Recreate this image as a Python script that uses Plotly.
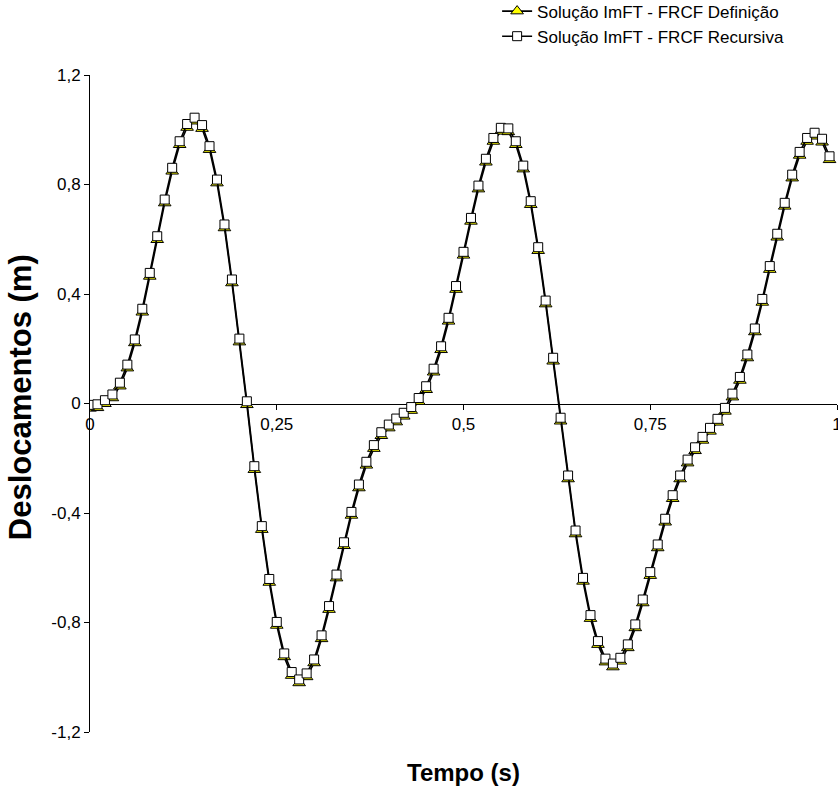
import plotly.graph_objects as go

# Time (s)
tempo = [0.00, 0.01, 0.02, 0.03, 0.04, 0.05, 0.06, 0.07, 0.08, 0.09,
         0.10, 0.11, 0.12, 0.13, 0.14, 0.15, 0.16, 0.17, 0.18, 0.19,
         0.20, 0.21, 0.22, 0.23, 0.24, 0.25, 0.26, 0.27, 0.28, 0.29,
         0.30, 0.31, 0.32, 0.33, 0.34, 0.35, 0.36, 0.37, 0.38, 0.39,
         0.40, 0.41, 0.42, 0.43, 0.44, 0.45, 0.46, 0.47, 0.48, 0.49,
         0.50, 0.51, 0.52, 0.53, 0.54, 0.55, 0.56, 0.57, 0.58, 0.59,
         0.60, 0.61, 0.62, 0.63, 0.64, 0.65, 0.66, 0.67, 0.68, 0.69,
         0.70, 0.71, 0.72, 0.73, 0.74, 0.75, 0.76, 0.77, 0.78, 0.79,
         0.80, 0.81, 0.82, 0.83, 0.84, 0.85, 0.86, 0.87, 0.88, 0.89,
         0.90, 0.91, 0.92, 0.93, 0.94, 0.95, 0.96, 0.97, 0.98, 0.99]

# Displacement (m) - FRCF Definição
desl_definicao = [-0.005, -0.003, 0.012, 0.033, 0.076, 0.142, 0.234, 0.346, 0.477, 0.611,
                  0.745, 0.861, 0.958, 1.021, 1.044, 1.017, 0.940, 0.818, 0.654, 0.453,
                  0.237, 0.008, -0.229, -0.448, -0.641, -0.798, -0.913, -0.981, -1.008, -0.986,
                  -0.935, -0.847, -0.740, -0.625, -0.507, -0.396, -0.296, -0.213, -0.152, -0.105,
                  -0.077, -0.055, -0.034, -0.013, 0.020, 0.063, 0.127, 0.209, 0.313, 0.429,
                  0.554, 0.678, 0.796, 0.894, 0.970, 1.007, 1.005, 0.958, 0.869, 0.739,
                  0.571, 0.376, 0.167, -0.052, -0.263, -0.464, -0.637, -0.773, -0.868, -0.932,
                  -0.950, -0.929, -0.880, -0.807, -0.716, -0.616, -0.515, -0.421, -0.335, -0.263,
                  -0.205, -0.160, -0.122, -0.089, -0.056, -0.016, 0.036, 0.097, 0.179, 0.274,
                  0.382, 0.502, 0.620, 0.733, 0.836, 0.919, 0.970, 0.989, 0.967, 0.903]

# Displacement (m) - FRCF Recursiva
desl_recursiva = [-0.005, -0.003, 0.012, 0.033, 0.076, 0.142, 0.234, 0.346, 0.477, 0.611,
                  0.745, 0.861, 0.958, 1.021, 1.044, 1.017, 0.940, 0.818, 0.654, 0.453,
                  0.237, 0.008, -0.229, -0.448, -0.641, -0.798, -0.913, -0.981, -1.008, -0.986,
                  -0.935, -0.847, -0.740, -0.625, -0.507, -0.396, -0.296, -0.213, -0.152, -0.105,
                  -0.077, -0.055, -0.034, -0.013, 0.020, 0.063, 0.127, 0.209, 0.313, 0.429,
                  0.554, 0.678, 0.796, 0.894, 0.970, 1.007, 1.005, 0.958, 0.869, 0.739,
                  0.571, 0.376, 0.167, -0.052, -0.263, -0.464, -0.637, -0.773, -0.868, -0.932,
                  -0.950, -0.929, -0.880, -0.807, -0.716, -0.616, -0.515, -0.421, -0.335, -0.263,
                  -0.205, -0.160, -0.122, -0.089, -0.056, -0.016, 0.036, 0.097, 0.179, 0.274,
                  0.382, 0.502, 0.620, 0.733, 0.836, 0.919, 0.970, 0.989, 0.967, 0.903]

x_tickvals = [0, 0.25, 0.5, 0.75, 1]
x_ticktext = ["0", "0,25", "0,5", "0,75", "1"]
y_tickvals = [-1.2, -0.8, -0.4, 0, 0.4, 0.8, 1.2]
y_ticktext = ["-1,2", "-0,8", "-0,4", "0", "0,4", "0,8", "1,2"]

FONT = "Arial, Liberation Sans, sans-serif"
Y_MIN, Y_MAX = -1.2, 1.2
PLOT_H = 789 - 75 - 57
# Excel centres the triangle's bounding box on the point; plotly centres it
# higher, so the triangle layer's axis is offset by a few pixels.
TRI_SHIFT = 3.5 * (Y_MAX - Y_MIN) / PLOT_H

fig = go.Figure()
# empty trace so that the visible (main) y axis is drawn
fig.add_trace(go.Scatter(x=[None], y=[None], mode="lines", yaxis="y",
                         showlegend=False, hoverinfo="skip"))
fig.add_trace(go.Scatter(
    x=tempo, y=desl_definicao, mode="lines+markers", yaxis="y2",
    name="Solução ImFT - FRCF Definição",
    line=dict(color="black", width=1.6),
    marker=dict(symbol="triangle-up", size=11, color="#FFFF00",
                line=dict(color="black", width=1)),
))
fig.add_trace(go.Scatter(
    x=tempo, y=desl_recursiva, mode="lines+markers", yaxis="y3",
    name="Solução ImFT - FRCF Recursiva",
    line=dict(color="black", width=1.6),
    marker=dict(symbol="square", size=9, color="white",
                line=dict(color="black", width=1)),
))

fig.update_layout(
    width=838, height=789,
    margin=dict(l=90, r=1, t=75, b=57, autoexpand=False),
    paper_bgcolor="white", plot_bgcolor="rgba(0,0,0,0)",
    font=dict(family=FONT, size=17, color="black"),
    showlegend=True,
    legend=dict(x=0.545, y=1.124, xanchor="left", yanchor="top",
                bgcolor="rgba(0,0,0,0)", font=dict(size=17),
                itemwidth=30, tracegroupgap=0),
    xaxis=dict(range=[0, 1], anchor="free", position=0.5,
               tickvals=x_tickvals, ticktext=x_ticktext,
               ticks="outside", ticklen=5, tickcolor="black",
               ticklabeloverflow="allow",
               showline=True, linecolor="black", linewidth=1,
               showgrid=False, zeroline=False, layer="below traces"),
    yaxis=dict(range=[Y_MIN, Y_MAX],
               tickvals=y_tickvals, ticktext=y_ticktext,
               ticks="outside", ticklen=5, tickcolor="black",
               showline=True, linecolor="black", linewidth=1,
               showgrid=False, zeroline=False),
    yaxis2=dict(range=[Y_MIN + TRI_SHIFT, Y_MAX + TRI_SHIFT], overlaying="y",
                visible=False, showgrid=False, zeroline=False),
    yaxis3=dict(range=[Y_MIN, Y_MAX], overlaying="y",
                visible=False, showgrid=False, zeroline=False),
    annotations=[
        dict(text="<b>Tempo (s)</b>", xref="paper", yref="paper",
             x=0.5, y=-0.062, xanchor="center", yanchor="middle",
             showarrow=False, font=dict(size=24)),
        dict(text="<b>Deslocamentos (m)</b>", xref="paper", yref="paper",
             x=-0.092, y=0.51, xanchor="center", yanchor="middle",
             textangle=-90, showarrow=False, font=dict(size=31)),
    ],
)

fig.write_html("out.html", config={"displayModeBar": False},
               post_script="document.body.style.margin='0';")
